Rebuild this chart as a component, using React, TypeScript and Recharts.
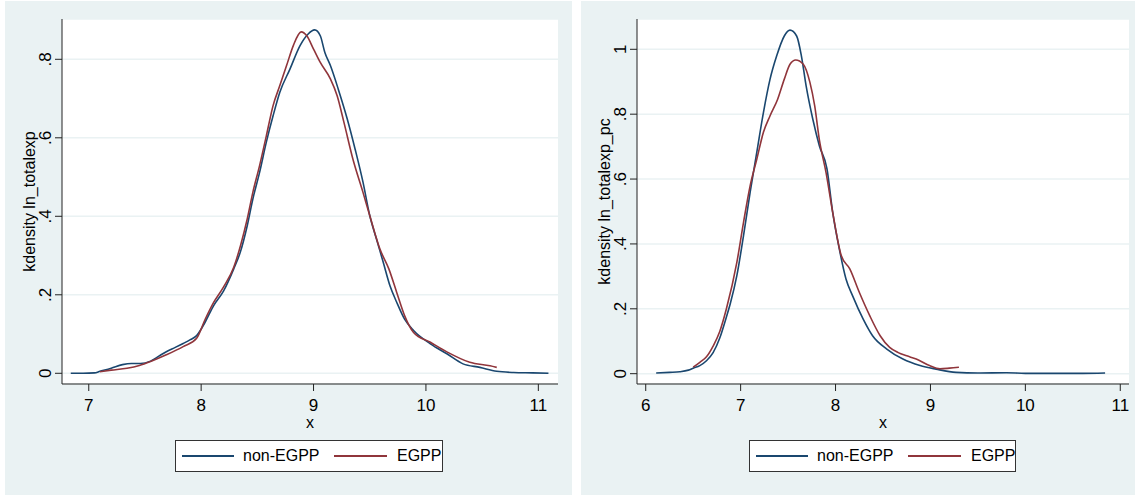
import { LineChart, Line, XAxis, YAxis, CartesianGrid } from "recharts";

// kdensity of ln_totalexp
const leftBlueX = [6.84, 6.95, 7.05, 7.1, 7.2, 7.3, 7.38, 7.46, 7.55, 7.62, 7.69, 7.77, 7.84, 7.9, 7.96, 8.035, 8.11, 8.2, 8.29, 8.35, 8.41, 8.46, 8.52, 8.58, 8.64, 8.7, 8.79, 8.88, 8.95, 9.01, 9.06, 9.1, 9.15, 9.22, 9.3, 9.37, 9.44, 9.5, 9.56, 9.62, 9.68, 9.74, 9.81, 9.89, 10.04, 10.19, 10.33, 10.48, 10.63, 10.78, 10.95, 11.09];
const leftBlueY = [0, 0, 0.001, 0.005, 0.013, 0.022, 0.025, 0.025, 0.031, 0.043, 0.055, 0.066, 0.076, 0.085, 0.096, 0.13, 0.172, 0.21, 0.266, 0.31, 0.376, 0.444, 0.512, 0.589, 0.656, 0.716, 0.775, 0.835, 0.864, 0.875, 0.86, 0.818, 0.784, 0.724, 0.648, 0.571, 0.487, 0.402, 0.342, 0.283, 0.223, 0.181, 0.138, 0.109, 0.075, 0.049, 0.024, 0.015, 0.005, 0.002, 0.001, 0];
const leftRedX = [7.1, 7.2, 7.34, 7.45, 7.55, 7.69, 7.84, 7.96, 8.035, 8.11, 8.2, 8.29, 8.35, 8.41, 8.46, 8.52, 8.58, 8.64, 8.7, 8.76, 8.82, 8.89, 8.94, 9.0, 9.06, 9.15, 9.21, 9.27, 9.35, 9.44, 9.5, 9.59, 9.67, 9.74, 9.81, 9.89, 10.04, 10.19, 10.39, 10.57, 10.63];
const leftRedY = [0.004, 0.008, 0.013, 0.02, 0.03, 0.047, 0.068, 0.089, 0.137, 0.18, 0.22, 0.27, 0.325, 0.393, 0.461, 0.529, 0.605, 0.682, 0.733, 0.784, 0.835, 0.87, 0.86, 0.826, 0.792, 0.75, 0.707, 0.64, 0.546, 0.461, 0.402, 0.317, 0.266, 0.206, 0.147, 0.104, 0.079, 0.054, 0.028, 0.019, 0.015];

// kdensity of ln_totalexp_pc
const rightBlueX = [6.11, 6.25, 6.36, 6.45, 6.5, 6.57, 6.64, 6.71, 6.78, 6.85, 6.89, 6.96, 7.03, 7.1, 7.17, 7.24, 7.31, 7.38, 7.46, 7.52, 7.59, 7.64, 7.69, 7.76, 7.83, 7.91, 7.97, 8.04, 8.11, 8.18, 8.29, 8.39, 8.54, 8.71, 8.89, 9.06, 9.27, 9.5, 9.8, 10.0, 10.3, 10.6, 10.84];
const rightBlueY = [0.002, 0.004, 0.006, 0.011, 0.017, 0.025, 0.04, 0.065, 0.11, 0.175, 0.215, 0.302, 0.425, 0.559, 0.682, 0.805, 0.908, 0.98, 1.041, 1.059, 1.041, 0.98, 0.887, 0.785, 0.702, 0.631, 0.497, 0.384, 0.292, 0.24, 0.169, 0.117, 0.076, 0.045, 0.025, 0.014, 0.004, 0.002, 0.003, 0.001, 0.001, 0.001, 0.002];
const rightRedX = [6.5, 6.57, 6.64, 6.71, 6.78, 6.85, 6.96, 7.03, 7.1, 7.17, 7.24, 7.31, 7.39, 7.46, 7.52, 7.58, 7.66, 7.73, 7.78, 7.83, 7.9, 7.97, 8.06, 8.15, 8.25, 8.36, 8.47, 8.57, 8.66, 8.75, 8.85, 8.99, 9.1, 9.2, 9.3];
const rightRedY = [0.02, 0.035, 0.052, 0.085, 0.13, 0.2, 0.343, 0.466, 0.579, 0.661, 0.744, 0.795, 0.846, 0.908, 0.954, 0.967, 0.954, 0.898, 0.826, 0.72, 0.62, 0.497, 0.364, 0.323, 0.251, 0.179, 0.117, 0.081, 0.065, 0.055, 0.045, 0.025, 0.015, 0.017, 0.02];

const leftXTicks = [7, 8, 9, 10, 11];
const leftYTicks = [0, 0.2, 0.4, 0.6, 0.8];
const rightXTicks = [6, 7, 8, 9, 10, 11];
const rightYTicks = [0, 0.2, 0.4, 0.6, 0.8, 1];
const seriesNames = ["non-EGPP", "EGPP"];
const yTitles = ["kdensity ln_totalexp", "kdensity ln_totalexp_pc"];

const BLUE = "#1a476f";
const RED = "#90353b";
const BG = "#eaf2f3";
const FONT = "'Liberation Sans', Arial, sans-serif";

const zip = (xs: number[], ys: number[]) => xs.map((x, i) => ({ x, y: ys[i] }));
const fmtY = (v: number) => (v === 0 ? "0" : v === 1 ? "1" : String(v).replace(/^0/, ""));

const XTick = ({ x, y, payload }: any) => (
  <text x={x} y={y + 12} textAnchor="middle" dominantBaseline="central" fontSize={17} fontFamily={FONT} fill="#000">
    {payload.value}
  </text>
);

const YTick = ({ x, y, payload }: any) => (
  <text
    x={x - 7}
    y={y}
    transform={`rotate(-90, ${x - 7}, ${y})`}
    textAnchor="middle"
    dominantBaseline="central"
    fontSize={17}
    fontFamily={FONT}
    fill="#000"
  >
    {fmtY(payload.value)}
  </text>
);

function Panel({ left, width, blue, red, xDomain, yDomain, xTicks, yTicks, yTitle, yAxisWidth, rightMargin, legendLeft, legendWidth }: any) {
  const height = 494;
  return (
    <div style={{ position: "absolute", left, top: 1, width, height, background: BG }}>
      <LineChart width={width} height={height} margin={{ top: 18, right: rightMargin, bottom: 0, left: 0 }}>
        <CartesianGrid vertical={false} fill="#fff" stroke={BG} strokeWidth={1.5} />
        <XAxis
          type="number"
          dataKey="x"
          domain={xDomain}
          ticks={xTicks}
          allowDataOverflow
          height={111}
          tickSize={7}
          stroke="#222"
          tick={<XTick />}
          label={{
            content: ({ viewBox }: any) => (
              <text x={viewBox.x + viewBox.width / 2} y={viewBox.y + 38} textAnchor="middle" dominantBaseline="central" fontSize={16} fontFamily={FONT} fill="#000">
                x
              </text>
            ),
          }}
        />
        <YAxis
          type="number"
          dataKey="y"
          domain={yDomain}
          ticks={yTicks}
          allowDataOverflow
          width={yAxisWidth}
          tickSize={7}
          stroke="#222"
          tick={<YTick />}
          label={{
            content: ({ viewBox }: any) => {
              const cx = viewBox.x + viewBox.width - 33;
              const cy = viewBox.y + viewBox.height / 2;
              return (
                <text x={cx} y={cy} transform={`rotate(-90, ${cx}, ${cy})`} textAnchor="middle" dominantBaseline="central" fontSize={16} fontFamily={FONT} fill="#000">
                  {yTitle}
                </text>
              );
            },
          }}
        />
        <Line data={blue} dataKey="y" type="monotone" stroke={BLUE} strokeWidth={1.6} dot={false} isAnimationActive={false} name={seriesNames[0]} />
        <Line data={red} dataKey="y" type="monotone" stroke={RED} strokeWidth={1.6} dot={false} isAnimationActive={false} name={seriesNames[1]} />
      </LineChart>
      <div
        style={{
          position: "absolute",
          left: legendLeft,
          top: 439,
          width: legendWidth,
          height: 32,
          boxSizing: "border-box",
          border: "1px solid #333",
          background: "#fff",
          fontFamily: FONT,
          fontSize: 16,
          color: "#000",
          whiteSpace: "nowrap",
        }}
      >
        <div style={{ position: "absolute", left: 6, top: 14, width: 52, height: 2, background: BLUE }} />
        <span style={{ position: "absolute", left: 67, top: 0, lineHeight: "30px" }}>{seriesNames[0]}</span>
        <div style={{ position: "absolute", left: 158, top: 14, width: 53, height: 2, background: RED }} />
        <span style={{ position: "absolute", left: 221, top: 0, lineHeight: "30px" }}>{seriesNames[1]}</span>
      </div>
    </div>
  );
}

export default function App() {
  return (
    <div style={{ position: "absolute", left: 0, top: 0, width: 1135, height: 497, background: "#fff" }}>
      <Panel
        left={5}
        width={567}
        blue={zip(leftBlueX, leftBlueY)}
        red={zip(leftRedX, leftRedY)}
        xDomain={[6.762, 11.175]}
        yDomain={[-0.0273, 0.9027]}
        xTicks={leftXTicks}
        yTicks={leftYTicks}
        yTitle={yTitles[0]}
        yAxisWidth={57}
        rightMargin={14}
        legendLeft={170}
        legendWidth={268}
      />
      <Panel
        left={581}
        width={554}
        blue={zip(rightBlueX, rightBlueY)}
        red={zip(rightRedX, rightRedY)}
        xDomain={[5.908, 11.092]}
        yDomain={[-0.0318, 1.0934]}
        xTicks={rightXTicks}
        yTicks={rightYTicks}
        yTitle={yTitles[1]}
        yAxisWidth={56}
        rightMargin={6}
        legendLeft={168}
        legendWidth={267}
      />
    </div>
  );
}
